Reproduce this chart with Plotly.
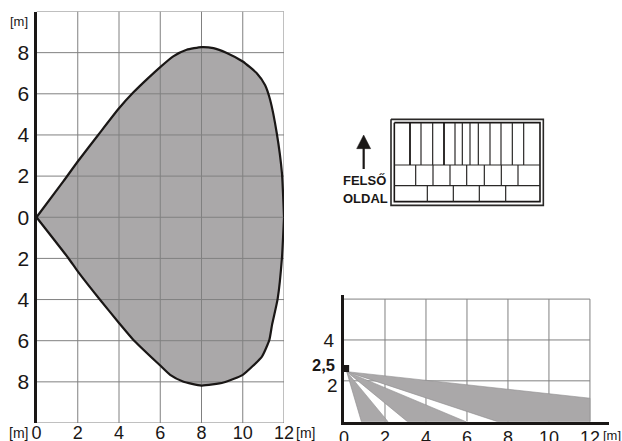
import plotly.graph_objects as go

W, H = 622, 441

# --- coverage pattern (top view), metres
upper_x = [0, 1.3, 2, 3, 3.97, 4.7, 5.4, 6, 6.63, 7.28, 8, 8.58, 9.2, 10, 10.68, 11.08, 11.33, 11.65, 11.9, 12]
upper_y = [0, 1.74, 2.71, 4.01, 5.26, 6.07, 6.75, 7.3, 7.82, 8.14, 8.27, 8.22, 8.0, 7.57, 7.0, 6.43, 5.7, 4.08, 2.14, 0]
lower_x = [12, 11.9, 11.69, 11.42, 11.29, 10.93, 10, 9.07, 8, 7.1, 6.48, 5.96, 4.7, 3.97, 3.08, 2, 1.54, 0]
lower_y = [0, -1.98, -3.98, -5.23, -5.96, -6.77, -7.66, -8.03, -8.18, -7.98, -7.66, -7.17, -5.96, -5.1, -4.01, -2.63, -1.98, 0]
top_x_ticks = [0, 2, 4, 6, 8, 10, 12]
top_y_ticks = [-8, -6, -4, -2, 0, 2, 4, 6, 8]
top_y_labels = ["8", "6", "4", "2", "0", "2", "4", "6", "8"]
top_y_edges = [-10, 10]

# --- side view, metres
apex = (0.13, 2.45)
mount_height = 2.6
beam_far_x = [12, 12, 7.5]
beam_far_y = [1.15, 0, 0]
beam_mid_x = [5.95, 3.1]
beam_near_x = [2.15, 0.85]
side_x_ticks = [0, 2, 4, 6, 8, 10, 12]
side_y_ticks = [4]
side_y_grid = [2, 4, 6]

# --- curtain lens diagram (drawing units)
lens_left, lens_right = 163, 600
lens_top, lens_row1, lens_row2, lens_bottom = 68, 195, 257, 305
row1_div = [210, 243, 278, 312, 345, 367, 390, 415, 450, 483, 517, 551]
row1_thick = [210, 312]
row2_div = [227, 279, 330, 380, 433, 484, 534]
row3_div = [262, 340, 418, 497]
outer_x = [153, 610]
outer_y = [58, 316]
arrow_shaft_x = [71, 71]
arrow_shaft_y = [140, 207]
arrow_head_x = [50, 92, 71, 50]
arrow_head_y = [146, 146, 105, 146]

BLACK = "#1a1716"
GRID = "#808080"
FILL = "#aaa8a9"
FONT = "Liberation Sans"


def dom_x(a, b):
    return [a / W, b / W]


def dom_y(top, bottom):
    return [1 - bottom / H, 1 - top / H]


def segs_v(xs, y0, y1):
    px, py = [], []
    for x in xs:
        px += [x, x, None]
        py += [y0, y1, None]
    return px, py


def segs_h(ys, x0, x1):
    px, py = [], []
    for y in ys:
        px += [x0, x1, None]
        py += [y, y, None]
    return px, py


fig = go.Figure()


def line(px, py, color=GRID, width=1, axes=("x", "y")):
    fig.add_trace(go.Scatter(x=px, y=py, mode="lines", line=dict(color=color, width=width),
                             xaxis=axes[0], yaxis=axes[1], hoverinfo="skip", showlegend=False))


# top view
fig.add_trace(go.Scatter(x=upper_x + lower_x, y=upper_y + lower_y, mode="lines", fill="toself",
                         fillcolor=FILL, line=dict(color=FILL, width=0),
                         xaxis="x", yaxis="y", hoverinfo="skip", showlegend=False))
gx, gy = segs_v(top_x_ticks[1:], top_y_edges[0], top_y_edges[1])
line(gx, gy)
gx, gy = segs_h(top_y_ticks + top_y_edges, 0, 12)
line(gx, gy)
for ox, oy in [(upper_x, upper_y), (lower_x, lower_y)]:
    fig.add_trace(go.Scatter(x=ox, y=oy, mode="lines",
                             line=dict(color=BLACK, width=2.2, shape="spline", smoothing=0.5),
                             xaxis="x", yaxis="y", hoverinfo="skip", showlegend=False))

# side view
gx, gy = segs_v(side_x_ticks[1:], 0, side_y_grid[-1])
line(gx, gy, axes=("x2", "y2"))
gx, gy = segs_h(side_y_grid, 0, 12)
line(gx, gy, axes=("x2", "y2"))
for bx, by in [
    (beam_far_x, beam_far_y),
    (beam_mid_x, [0, 0]),
    (beam_near_x, [0, 0]),
]:
    fig.add_trace(go.Scatter(x=[apex[0]] + bx + [apex[0]], y=[apex[1]] + by + [apex[1]], mode="lines",
                             fill="toself", fillcolor=FILL, line=dict(color="#8f8d8e", width=0.6),
                             xaxis="x2", yaxis="y2", hoverinfo="skip", showlegend=False))
fig.add_trace(go.Scatter(x=[0.08], y=[mount_height], mode="markers",
                         marker=dict(symbol="square", color=BLACK, size=7),
                         xaxis="x2", yaxis="y2", hoverinfo="skip", showlegend=False))
line([-0.25, 0], [mount_height, mount_height], BLACK, 2, axes=("x2", "y2"))

# lens diagram
A3 = ("x3", "y3")
px = [outer_x[0], outer_x[1], outer_x[1], outer_x[0], outer_x[0]]
py = [outer_y[0], outer_y[0], outer_y[1], outer_y[1], outer_y[0]]
line(px, py, "#2a2827", 1.6, A3)
px = [lens_left, lens_right, lens_right, lens_left, lens_left]
py = [lens_top, lens_top, lens_bottom, lens_bottom, lens_top]
line(px, py, BLACK, 1.6, A3)
gx, gy = segs_h([lens_row1, lens_row2], lens_left, lens_right)
line(gx, gy, "#2a2827", 1.2, A3)
gx, gy = segs_v([d for d in row1_div if d not in row1_thick], lens_top, lens_row1)
line(gx, gy, "#2a2827", 1.2, A3)
gx, gy = segs_v(row1_thick, lens_top, lens_row1)
line(gx, gy, BLACK, 1.8, A3)
gx, gy = segs_v(row2_div, lens_row1, lens_row2)
line(gx, gy, "#2a2827", 1.2, A3)
gx, gy = segs_v(row3_div, lens_row2, lens_bottom)
line(gx, gy, "#2a2827", 1.2, A3)
line(arrow_shaft_x, arrow_shaft_y, BLACK, 2.2, A3)
fig.add_trace(go.Scatter(x=arrow_head_x, y=arrow_head_y, mode="lines", fill="toself", fillcolor=BLACK,
                         line=dict(color=BLACK, width=0.5), xaxis="x3", yaxis="y3",
                         hoverinfo="skip", showlegend=False))


def note(text, px_x, px_y, size, bold=False, anchor="center"):
    fig.add_annotation(xref="paper", yref="paper", x=px_x / W, y=1 - px_y / H, text=f"<b>{text}</b>" if bold else text,
                       showarrow=False, xanchor=anchor, yanchor="middle",
                       font=dict(family=FONT, size=size, color=BLACK))


note("[m]", 19, 21, 13)
note("[m]", 18, 433, 14)
note("[m]", 305, 433, 14)
note("[m]", 612, 435, 13)
note("2,5", 323.5, 365, 16.5, bold=True)
note("2", 332.7, 385, 19)
note("FELSŐ", 364, 181, 13, bold=True)
note("OLDAL", 365, 198, 13, bold=True)

fig.update_layout(
    width=W, height=H, autosize=False, margin=dict(l=0, r=0, t=0, b=0, pad=0, autoexpand=False),
    template="none", paper_bgcolor="white", plot_bgcolor="white", showlegend=False,
    xaxis=dict(domain=dom_x(36.5, 284), range=[0, 12], tickmode="array", tickvals=top_x_ticks,
               ticktext=[str(v) for v in top_x_ticks], showgrid=False, zeroline=False, showline=False, ticks="",
               tickfont=dict(family=FONT, size=18, color=BLACK), anchor="y", automargin=False,
               ticklabelstandoff=-3),
    yaxis=dict(domain=dom_y(11.5, 423), range=[-10, 10], tickmode="array", tickvals=top_y_ticks,
               ticktext=top_y_labels, showgrid=False, zeroline=False, showline=True, linecolor=BLACK, linewidth=3,
               ticks="", tickfont=dict(family=FONT, size=21, color=BLACK), anchor="x", layer="above traces",
               automargin=False),
    xaxis2=dict(domain=dom_x(344, 609), range=[0, 12.93], tickmode="array", tickvals=side_x_ticks,
                ticktext=[str(v) for v in side_x_ticks], showgrid=False, zeroline=False, showline=True,
                linecolor=BLACK, linewidth=3, ticks="", tickfont=dict(family=FONT, size=18, color=BLACK),
                anchor="y2", layer="above traces", automargin=False, ticklabelstandoff=-2),
    yaxis2=dict(domain=dom_y(295, 421.7), range=[0, 6.2], tickmode="array", tickvals=side_y_ticks,
                ticktext=[str(v) for v in side_y_ticks], showgrid=False, zeroline=False, showline=True,
                linecolor=BLACK, linewidth=3, ticks="", tickfont=dict(family=FONT, size=19, color=BLACK),
                anchor="x2", layer="above traces", automargin=False, ticklabelstandoff=3),
    xaxis3=dict(domain=dom_x(340, 560), range=[0, 660], visible=False, anchor="y3", automargin=False),
    yaxis3=dict(domain=dom_y(100, 220), range=[360, 0], visible=False, anchor="x3", automargin=False),
)

fig.write_html("out.html", post_script="document.body.style.margin='0';",
               config={"displayModeBar": False})
